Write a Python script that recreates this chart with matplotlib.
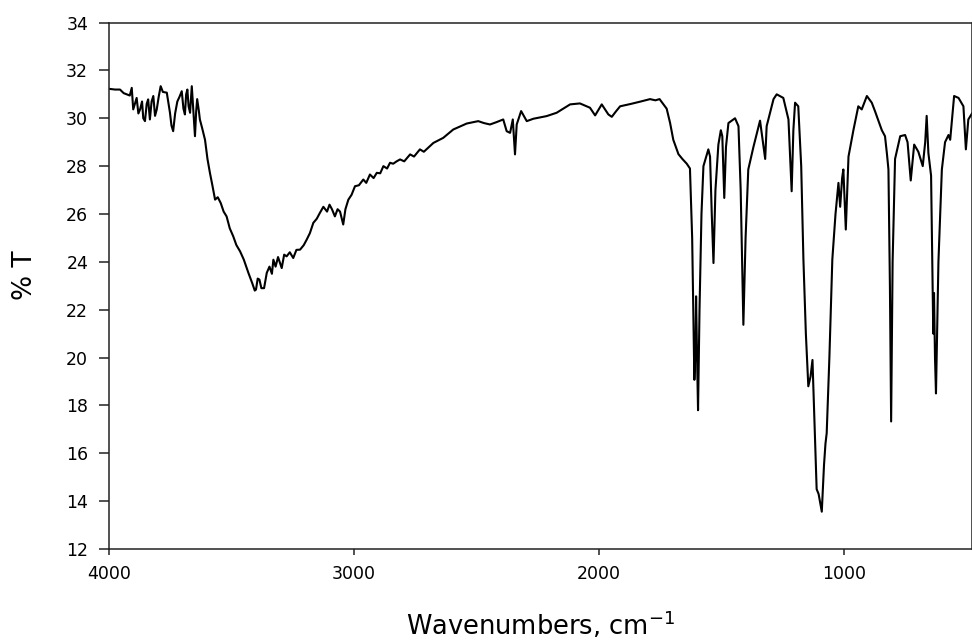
import matplotlib
matplotlib.use("Agg")
import numpy as np
from matplotlib import pyplot as plt

# FTIR spectrum (wavenumber in cm-1, % transmittance)
wavenumbers = [
    4000, 3975, 3955, 3940, 3928, 3915, 3907, 3901, 3887, 3880, 3873, 3865,
    3860, 3853, 3846, 3840, 3833, 3826, 3819, 3812, 3805, 3797, 3789, 3780,
    3764, 3751, 3745, 3738, 3730, 3721, 3712, 3703, 3696, 3690, 3685, 3680,
    3675, 3669, 3662, 3656, 3649, 3644, 3640, 3633, 3629, 3620, 3608, 3598,
    3588, 3578, 3567, 3556, 3544, 3532, 3520, 3507, 3493, 3480, 3465, 3450,
    3431, 3415, 3405, 3400, 3393, 3386, 3378, 3367, 3360, 3356, 3345, 3335,
    3329, 3320, 3310, 3295, 3285, 3275, 3262, 3248, 3235, 3220, 3205, 3193,
    3180, 3166, 3152, 3139, 3125, 3110, 3100, 3090, 3078, 3067, 3057, 3044,
    3035, 3023, 3010, 2996, 2980, 2962, 2950, 2935, 2920, 2907, 2893, 2880,
    2865, 2853, 2840, 2826, 2812, 2795, 2771, 2755, 2731, 2715, 2676, 2636,
    2595, 2540, 2493, 2470, 2445, 2418, 2391, 2377, 2363, 2352, 2343, 2336,
    2318, 2295, 2268, 2214, 2173, 2118, 2078, 2037, 2016, 1989, 1962, 1948,
    1930, 1914, 1870, 1830, 1792, 1770, 1753, 1724, 1710, 1697, 1676, 1660,
    1642, 1629, 1620, 1611, 1606, 1604, 1600, 1596, 1590, 1582, 1574, 1554,
    1547, 1540, 1533, 1525, 1513, 1503, 1497, 1489, 1482, 1472, 1445, 1431,
    1422, 1411, 1402, 1391, 1370, 1343, 1322, 1316, 1288, 1275, 1248, 1227,
    1214, 1207, 1200, 1187, 1175, 1166, 1156, 1146, 1137, 1129, 1112, 1104,
    1091, 1082, 1076, 1071, 1060, 1048, 1035, 1023, 1016, 1008, 1003, 993,
    982, 962, 942, 928, 907, 887, 874, 846, 833, 825, 819, 813,
    808, 802, 792, 771, 751, 741, 728, 714, 697, 679, 669, 663,
    656, 645, 640, 636, 633, 629, 625, 615, 601, 588, 574, 567,
    551, 533, 513, 503, 493, 478,
]
transmittance = [
    31.23, 31.2, 31.2, 31.05, 31.0, 30.95, 31.27, 30.37, 30.85, 30.2, 30.37, 30.7,
    30.0, 29.88, 30.6, 30.79, 29.95, 30.7, 30.93, 30.1, 30.37, 30.9, 31.34, 31.1,
    31.07, 30.23, 29.7, 29.46, 30.2, 30.7, 30.9, 31.13, 30.4, 30.16, 31.0, 31.2,
    30.5, 30.23, 31.34, 30.4, 29.25, 30.3, 30.8, 30.3, 29.95, 29.6, 29.1, 28.3,
    27.72, 27.2, 26.6, 26.7, 26.46, 26.1, 25.9, 25.4, 25.07, 24.7, 24.44, 24.1,
    23.54, 23.1, 22.8, 22.84, 23.3, 23.26, 22.9, 22.9, 23.3, 23.54, 23.8, 23.5,
    24.09, 23.8, 24.2, 23.74, 24.3, 24.23, 24.4, 24.16, 24.5, 24.51, 24.7, 24.93,
    25.2, 25.63, 25.8, 26.05, 26.3, 26.1, 26.39, 26.2, 25.9, 26.2, 26.1, 25.56,
    26.2, 26.6, 26.8, 27.16, 27.2, 27.44, 27.3, 27.65, 27.5, 27.72, 27.7, 28.0,
    27.9, 28.14, 28.1, 28.2, 28.28, 28.2, 28.49, 28.4, 28.7, 28.6, 28.97, 29.18,
    29.53, 29.78, 29.88, 29.8, 29.74, 29.84, 29.95, 29.46, 29.39, 29.95, 28.49, 29.74,
    30.3, 29.88, 29.98, 30.09, 30.23, 30.58, 30.62, 30.44, 30.12, 30.58, 30.16, 30.06,
    30.3, 30.5, 30.6, 30.7, 30.8, 30.75, 30.8, 30.4, 29.8, 29.1, 28.5, 28.3,
    28.1, 27.9, 25.0, 19.07, 20.5, 22.56, 20.0, 17.8, 22.0, 26.0, 28.0, 28.7,
    28.4, 26.0, 23.95, 27.0, 28.9, 29.5, 29.25, 26.67, 28.8, 29.8, 30.0, 29.67,
    27.0, 21.37, 25.0, 27.86, 28.8, 29.9, 28.3, 29.67, 30.8, 31.0, 30.85, 29.95,
    26.95, 29.5, 30.65, 30.5, 28.0, 24.1, 21.0, 18.8, 19.2, 19.9, 14.5, 14.3,
    13.56, 15.5, 16.4, 16.84, 20.0, 24.1, 26.0, 27.3, 26.3, 27.5, 27.86, 25.35,
    28.4, 29.5, 30.5, 30.37, 30.93, 30.65, 30.3, 29.5, 29.25, 28.5, 27.86, 23.0,
    17.33, 24.0, 28.3, 29.25, 29.3, 29.0, 27.4, 28.9, 28.6, 28.0, 29.0, 30.1,
    28.55, 27.6, 24.0, 21.0, 22.7, 20.0, 18.5, 24.0, 27.86, 29.0, 29.3, 29.1,
    30.93, 30.85, 30.5, 28.7, 29.95, 30.2,
]

x_ticks = [4000, 3000, 2000, 1000]
y_ticks = np.arange(12, 35, 2)

figure, axis = plt.subplots(figsize=(9.72, 6.44), dpi=100)
figure.subplots_adjust(left=0.1121, right=1.0, bottom=0.1475, top=0.965)

axis.plot(wavenumbers, transmittance, color="black", linewidth=1.5)

axis.set_xlim(4000, 478)
axis.set_ylim(12, 34)
axis.set_xticks(x_ticks)
axis.set_yticks(y_ticks)

axis.tick_params(axis="both", direction="out", labelsize=12.5, colors="#222222",
                 labelcolor="black", width=1.1)
axis.tick_params(axis="y", length=7, pad=8)
axis.tick_params(axis="x", length=4.5, pad=7)
for spine in axis.spines.values():
    spine.set_linewidth(1.1)
    spine.set_color("#222222")

axis.set_xlabel("Wavenumbers, cm$^{\\mathregular{-1}}$", fontsize=18.5)
axis.set_ylabel("% T", fontsize=19)
axis.xaxis.set_label_coords(0.5, -0.115)
axis.yaxis.set_label_coords(-0.082, 0.52)

figure.savefig("out.png", dpi=100)
